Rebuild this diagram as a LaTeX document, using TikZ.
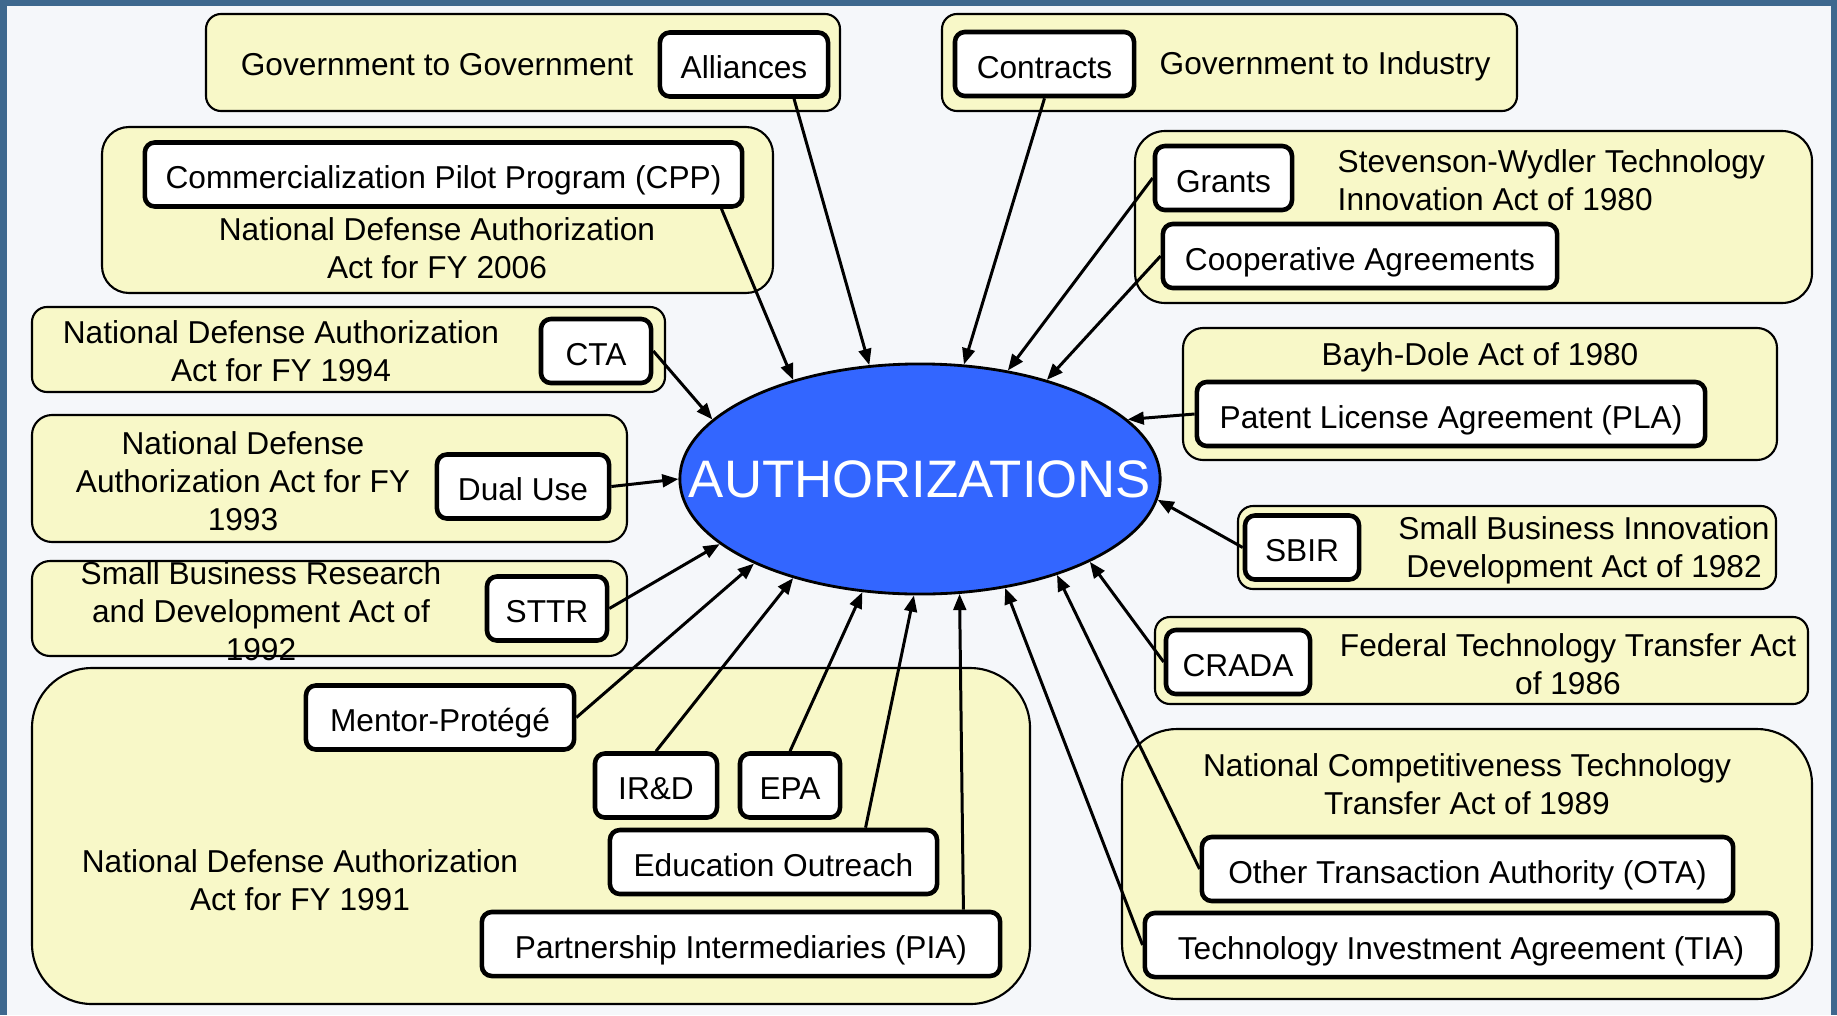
\documentclass[tikz,border=0pt]{standalone}
\usepackage{fontspec}
\setmainfont{Liberation Sans}
\definecolor{frameblue}{RGB}{62, 104, 142}
\definecolor{pagebg}{RGB}{245, 247, 250}
\definecolor{actyellow}{RGB}{248, 248, 200}
\definecolor{authblue}{RGB}{51, 102, 255}
\usetikzlibrary{shapes.geometric, arrows.meta, positioning}

\begin{document}
\begin{tikzpicture}[x=0.01cm, y=-0.01cm,
  act/.style={draw, line width=0.6pt, fill=actyellow},
  acttext/.style={font=\fontsize{9}{10.8}\selectfont, align=center, inner sep=0pt},
  tool/.style={draw, line width=1.3pt, fill=white, rounded corners=0.1cm,
               minimum height=0.64cm, inner sep=0pt, text height=8.1pt, text depth=0pt,
               font=\fontsize{9}{10.8}\selectfont},
  feed/.style={-{Triangle[length=4.6pt, width=3.6pt]}, line width=0.85pt},
]
\useasboundingbox (0,0) rectangle (1837,1015);
\fill[frameblue] (0,0) rectangle (1837,1015);
\fill[pagebg] (7,6) rectangle (1831,1015);

% Acts (background panels)
\draw[act, rounded corners=0.15cm] (206,14) rectangle (840,111);
\draw[act, rounded corners=0.15cm] (942,14) rectangle (1517,111);
\draw[act, rounded corners=0.27cm] (102,127) rectangle (773,293);
\draw[act, rounded corners=0.3cm] (1135,131) rectangle (1812,303);
\draw[act, rounded corners=0.15cm] (32,307) rectangle (665,392);
\draw[act, rounded corners=0.2cm] (1183,328) rectangle (1777,460);
\draw[act, rounded corners=0.2cm] (32,415) rectangle (627,542);
\draw[act, rounded corners=0.15cm] (1238,506) rectangle (1776,589);
\draw[act, rounded corners=0.18cm] (32,561) rectangle (627,656);
\draw[act, rounded corners=0.15cm] (1155,617) rectangle (1808,704);
\draw[act, rounded corners=0.6cm] (32,668) rectangle (1030,1004);
\draw[act, rounded corners=0.55cm] (1122,729) rectangle (1812,999);

\node[acttext] (g2g) at (437,65) {Government to Government};
\node[acttext] (g2i) at (1325,66) {Government to Industry};
\node[acttext] (fy2006) at (437,248) {National Defense Authorization\\Act for FY 2006};
\node[acttext, anchor=west, align=left] (swtia) at (1337,180)
{Stevenson-Wydler Technology\\Innovation Act of 1980};
\node[acttext] (fy1994) at (281,351) {National Defense Authorization\\Act for FY 1994};
\node[acttext] (bayhdole) at (1480,357) {Bayh-Dole Act of 1980};
\node[acttext] (fy1993) at (243,481) {National Defense\\Authorization Act for FY\\1993};
\node[acttext] (sbida) at (1584,550) {Small Business Innovation\\Development Act of 1982};
\node[acttext] (sbrda) at (261,611) {Small Business Research\\and Development Act of\\1992};
\node[acttext] (ftta) at (1568,664) {Federal Technology Transfer Act\\of 1986};
\node[acttext] (fy1991) at (300,880) {National Defense Authorization\\Act for FY 1991};
\node[acttext] (ncta) at (1467,784) {National Competitiveness Technology\\Transfer Act of 1989};

% Center
\node[ellipse, draw, line width=0.8pt, fill=authblue, text=white, inner sep=0pt,
      minimum width=4.8cm, minimum height=2.3cm,
      font=\fontsize{15}{18}\selectfont] (auth) at (920,479)
{\makebox[0pt]{AUTHORIZATIONS}};

% Instruments
\node[tool, minimum width=1.68cm] (alliances) at (744,64.5) {Alliances};
\node[tool, minimum width=1.79cm] (contracts) at (1044.5,64) {Contracts};
\node[tool, minimum width=5.97cm] (cpp) at (443.5,174.5) {Commercialization Pilot Program (CPP)};
\node[tool, minimum width=1.37cm] (grants) at (1223.5,178) {Grants};
\node[tool, minimum width=3.94cm] (coop) at (1360,256) {Cooperative Agreements};
\node[tool, minimum width=1.10cm] (cta) at (596,351) {CTA};
\node[tool, minimum width=5.08cm] (pla) at (1451,414) {Patent License Agreement (PLA)};
\node[tool, minimum width=1.72cm] (dualuse) at (523,486.5) {Dual Use};
\node[tool, minimum width=1.14cm] (sbir) at (1302,547.5) {SBIR};
\node[tool, minimum width=1.20cm] (sttr) at (547,608.5) {STTR};
\node[tool, minimum width=1.44cm] (crada) at (1238,662) {CRADA};
\node[tool, minimum width=2.68cm] (mentor) at (440,717.5) {Mentor-Protégé};
\node[tool, minimum width=1.22cm] (ird) at (656,785.5) {IR\&D};
\node[tool, minimum width=1.00cm] (epa) at (790,785.5) {EPA};
\node[tool, minimum width=3.27cm] (eduout) at (773.5,862) {Education Outreach};
\node[tool, minimum width=5.18cm] (pia) at (741,944) {Partnership Intermediaries (PIA)};
\node[tool, minimum width=5.31cm] (ota) at (1467.5,869) {Other Transaction Authority (OTA)};
\node[tool, minimum width=6.32cm] (tia) at (1461,945) {Technology Investment Agreement (TIA)};

% Arrows
\draw[feed] ([xshift=0.5cm]alliances.south) -- (auth.114);
\draw[feed] ([xshift=-0.23cm]cpp.south east) -- (auth.142);
\draw[feed] (contracts.south) -- (auth.69);
\draw[feed] (grants.west) -- (auth.51);
\draw[feed] (coop.west) -- (auth.38);
\draw[feed] (cta.east) -- (auth.164);
\draw[feed] (pla.west) -- (auth.16);
\draw[feed] (dualuse.east) -- (auth.180);
\draw[feed] (sbir.west) -- (auth.-5);
\draw[feed] (sttr.east) -- (auth.198);
\draw[feed] (mentor.east) -- (auth.207);
\draw[feed] (crada.west) -- (auth.-26);
\draw[feed] (ird.north) -- (auth.218);
\draw[feed] (epa.north) -- (auth.243);
\draw[feed] ([xshift=0.92cm]eduout.north) -- (auth.267);
\draw[feed] ([xshift=-0.39cm]pia.north east) -- (auth.-71);
\draw[feed] (ota.west) -- (auth.-35);
\draw[feed] (tia.west) -- (auth.-52);
\end{tikzpicture}
\end{document}
